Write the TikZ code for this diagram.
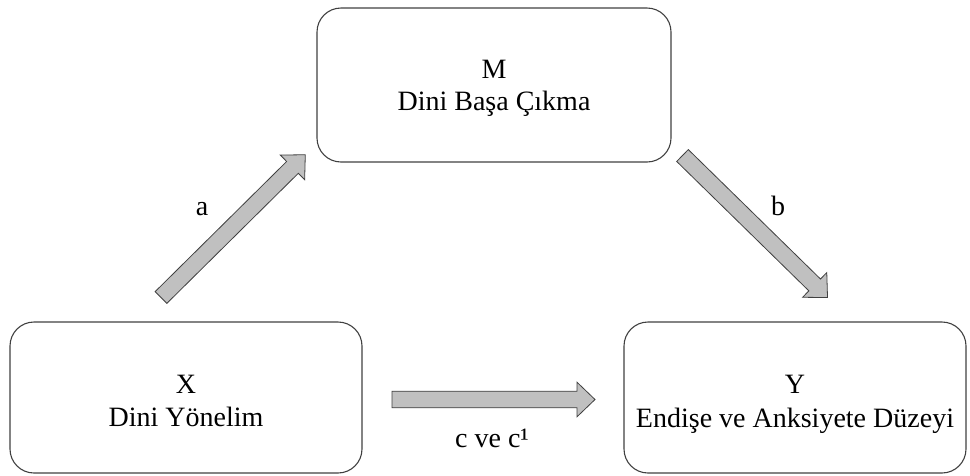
\documentclass[tikz,border=0pt]{standalone}
\usepackage{fontspec}
\setmainfont{Liberation Serif}
\definecolor{boxgray}{HTML}{404040}
\definecolor{arrowfill}{HTML}{C0C0C0}
\begin{document}
\begin{tikzpicture}[x=1pt,y=-1pt,
  box/.style={draw=boxgray, line width=1.1pt, rounded corners=24pt, inner sep=0pt},
  txt/.style={anchor=base, inner sep=0pt, font=\fontsize{28}{33}\selectfont},
  arrowstyle/.style={draw=boxgray, fill=arrowfill, line width=0.8pt, line join=miter},
  pics/barrow/.style={code={
    \draw[arrowstyle] (0,-8.3) -- (185,-8.3) -- (185,-17.3) -- (203,0)
      -- (185,17.3) -- (185,8.3) -- (0,8.3) -- cycle;}}]
\useasboundingbox (0,0) rectangle (970,475);
% boxes
\node[box, minimum width=354pt, minimum height=154pt] (M) at (494,85) {};
\node[box, minimum width=352pt, minimum height=151pt] (X) at (186,397.5) {};
\node[box, minimum width=342pt, minimum height=151pt] (Y) at (795,397.5) {};
% box texts
\node[txt] (Mlab) at (494,78) {M};
\node[txt] (Mname) at (494,110) {Dini Başa Çıkma};
\node[txt] (Xlab) at (186,393) {X};
\node[txt] (Xname) at (186,426) {Dini Yönelim};
\node[txt] (Ylab) at (795,393) {Y};
\node[txt] (Yname) at (795,427) {Endişe ve Anksiyete Düzeyi};
% block arrows
\pic (arrA) [rotate=44.7] at (161,297.5) {barrow};
\pic (arrB) [rotate=-44.4] at (682.5,155.5) {barrow};
\pic (arrC) at (392,399.5) {barrow};
% arrow labels
\node[txt] (la) at (202,215) {a};
\node[txt] (lb) at (778,215) {b};
\node[txt] (lc) at (492,447) {c ve c¹};
\end{tikzpicture}
\end{document}
